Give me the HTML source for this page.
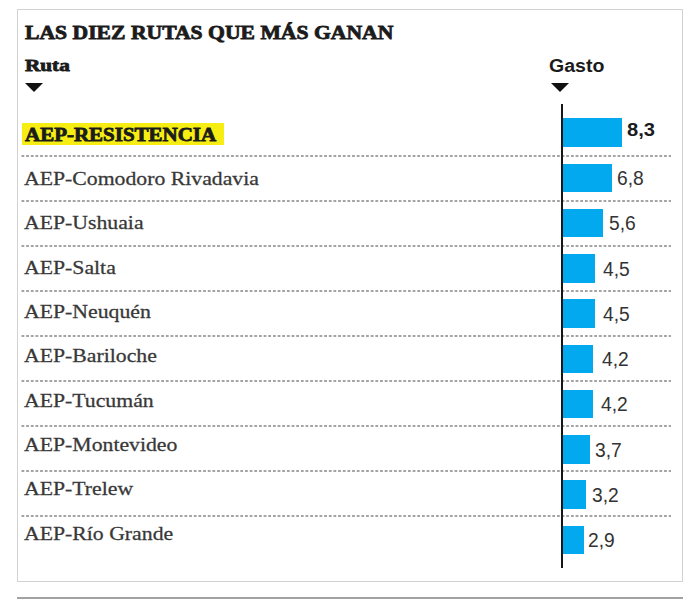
<!DOCTYPE html>
<html><head><meta charset="utf-8">
<style>
html,body{margin:0;padding:0;background:#fff;}
body{width:700px;height:610px;position:relative;overflow:hidden;}
.a{position:absolute;white-space:nowrap;line-height:1;transform-origin:0 0;}
.box{left:17px;top:9px;width:664px;height:571px;border:1px solid #d2d2d2;}
.bline{left:17px;top:597px;width:666px;height:2px;background:#a2a2a2;}
.title{font-family:"Liberation Serif",serif;font-weight:bold;color:#1b1b1b;-webkit-text-stroke:0.8px #1b1b1b;}
.hdr{font-family:"Liberation Serif",serif;font-weight:bold;color:#1b1b1b;-webkit-text-stroke:0.8px #1b1b1b;}
.gasto{font-family:"Liberation Sans",sans-serif;font-weight:bold;color:#1b1b1b;}
.tri{width:0;height:0;border-left:9px solid transparent;border-right:9px solid transparent;border-top:9px solid #111;}
.lab{font-family:"Liberation Serif",serif;color:#383838;-webkit-text-stroke:0.28px #383838;}
.lab.b{font-weight:bold;color:#1b1b1b;-webkit-text-stroke:0.8px #1b1b1b;}
.hl{background:#f6ee12;left:22px;top:122.8px;width:202px;height:22.5px;}
.dots{height:2px;left:21px;width:650px;background-image:linear-gradient(to right,#a4a4a4 0,#a4a4a4 2.5px,transparent 2.5px);background-size:4.66px 2px;background-position:0.5px 0;}
.bar{background:#03a9ef;}
.axis{left:561px;top:104px;width:2px;height:464px;background:#161616;}
.val{font-family:"Liberation Sans",sans-serif;color:#333;}
.val.b{font-weight:bold;color:#1b1b1b;}
</style></head><body>
<div class="a box"></div>
<div class="a bline"></div>
<div class="a title" style="left:25.00px;top:22.70px;font-size:19.60px;transform:scaleX(1.1049);">LAS DIEZ RUTAS QUE MÁS GANAN</div>
<div class="a hdr" style="left:25.00px;top:57.20px;font-size:17.20px;transform:scaleX(1.2340);">Ruta</div>
<div class="a tri" style="left:24.5px;top:83.2px"></div>
<div class="a gasto" style="left:549.00px;top:57.00px;font-size:18.00px;transform:scaleX(1.0850);">Gasto</div>
<div class="a tri" style="left:551px;top:83.2px"></div>
<div class="a hl"></div>
<div class="a dots" style="top:155.0px"></div>
<div class="a dots" style="top:200.0px"></div>
<div class="a dots" style="top:245.0px"></div>
<div class="a dots" style="top:290.0px"></div>
<div class="a dots" style="top:335.0px"></div>
<div class="a dots" style="top:380.0px"></div>
<div class="a dots" style="top:425.0px"></div>
<div class="a dots" style="top:470.0px"></div>
<div class="a dots" style="top:515.0px"></div>
<div class="a bar" style="left:563.0px;top:118.3px;width:59.3px;height:28.7px"></div>
<div class="a lab b" style="left:24.80px;top:125.60px;font-size:18.60px;transform:scaleX(1.1280);">AEP-RESISTENCIA</div>
<div class="a val b" style="left:627.25px;top:121.20px;font-size:18.20px;transform:scaleX(1.1070);">8,3</div>
<div class="a bar" style="left:563.0px;top:163.6px;width:48.6px;height:28.7px"></div>
<div class="a lab" style="left:23.50px;top:168.90px;font-size:19.50px;transform:scaleX(1.1150);">AEP-Comodoro Rivadavia</div>
<div class="a val" style="left:617.32px;top:169.05px;font-size:19.50px;transform:scaleX(0.9850);">6,8</div>
<div class="a bar" style="left:563.0px;top:208.8px;width:40.0px;height:28.7px"></div>
<div class="a lab" style="left:23.50px;top:213.25px;font-size:19.50px;transform:scaleX(1.1150);">AEP-Ushuaia</div>
<div class="a val" style="left:609.14px;top:214.30px;font-size:19.50px;transform:scaleX(0.9850);">5,6</div>
<div class="a bar" style="left:563.0px;top:254.1px;width:32.2px;height:28.7px"></div>
<div class="a lab" style="left:23.50px;top:257.60px;font-size:19.50px;transform:scaleX(1.1150);">AEP-Salta</div>
<div class="a val" style="left:602.77px;top:259.55px;font-size:19.50px;transform:scaleX(0.9850);">4,5</div>
<div class="a bar" style="left:563.0px;top:299.3px;width:32.2px;height:28.7px"></div>
<div class="a lab" style="left:23.50px;top:301.95px;font-size:19.50px;transform:scaleX(1.1150);">AEP-Neuquén</div>
<div class="a val" style="left:602.77px;top:304.80px;font-size:19.50px;transform:scaleX(0.9850);">4,5</div>
<div class="a bar" style="left:563.0px;top:344.6px;width:30.0px;height:28.7px"></div>
<div class="a lab" style="left:23.50px;top:346.30px;font-size:19.50px;transform:scaleX(1.1150);">AEP-Bariloche</div>
<div class="a val" style="left:601.83px;top:350.05px;font-size:19.50px;transform:scaleX(0.9850);">4,2</div>
<div class="a bar" style="left:563.0px;top:389.8px;width:30.0px;height:28.7px"></div>
<div class="a lab" style="left:23.50px;top:390.65px;font-size:19.50px;transform:scaleX(1.1150);">AEP-Tucumán</div>
<div class="a val" style="left:601.23px;top:395.30px;font-size:19.50px;transform:scaleX(0.9850);">4,2</div>
<div class="a bar" style="left:563.0px;top:435.1px;width:26.5px;height:28.7px"></div>
<div class="a lab" style="left:23.50px;top:435.00px;font-size:19.50px;transform:scaleX(1.1150);">AEP-Montevideo</div>
<div class="a val" style="left:595.26px;top:440.55px;font-size:19.50px;transform:scaleX(0.9850);">3,7</div>
<div class="a bar" style="left:563.0px;top:480.3px;width:22.9px;height:28.7px"></div>
<div class="a lab" style="left:23.50px;top:479.35px;font-size:19.50px;transform:scaleX(1.1150);">AEP-Trelew</div>
<div class="a val" style="left:591.98px;top:485.80px;font-size:19.50px;transform:scaleX(0.9850);">3,2</div>
<div class="a bar" style="left:563.0px;top:525.5px;width:20.7px;height:28.7px"></div>
<div class="a lab" style="left:23.50px;top:523.70px;font-size:19.50px;transform:scaleX(1.1150);">AEP-Río Grande</div>
<div class="a val" style="left:588.44px;top:531.05px;font-size:19.50px;transform:scaleX(0.9850);">2,9</div>
<div class="a axis"></div>
</body></html>
